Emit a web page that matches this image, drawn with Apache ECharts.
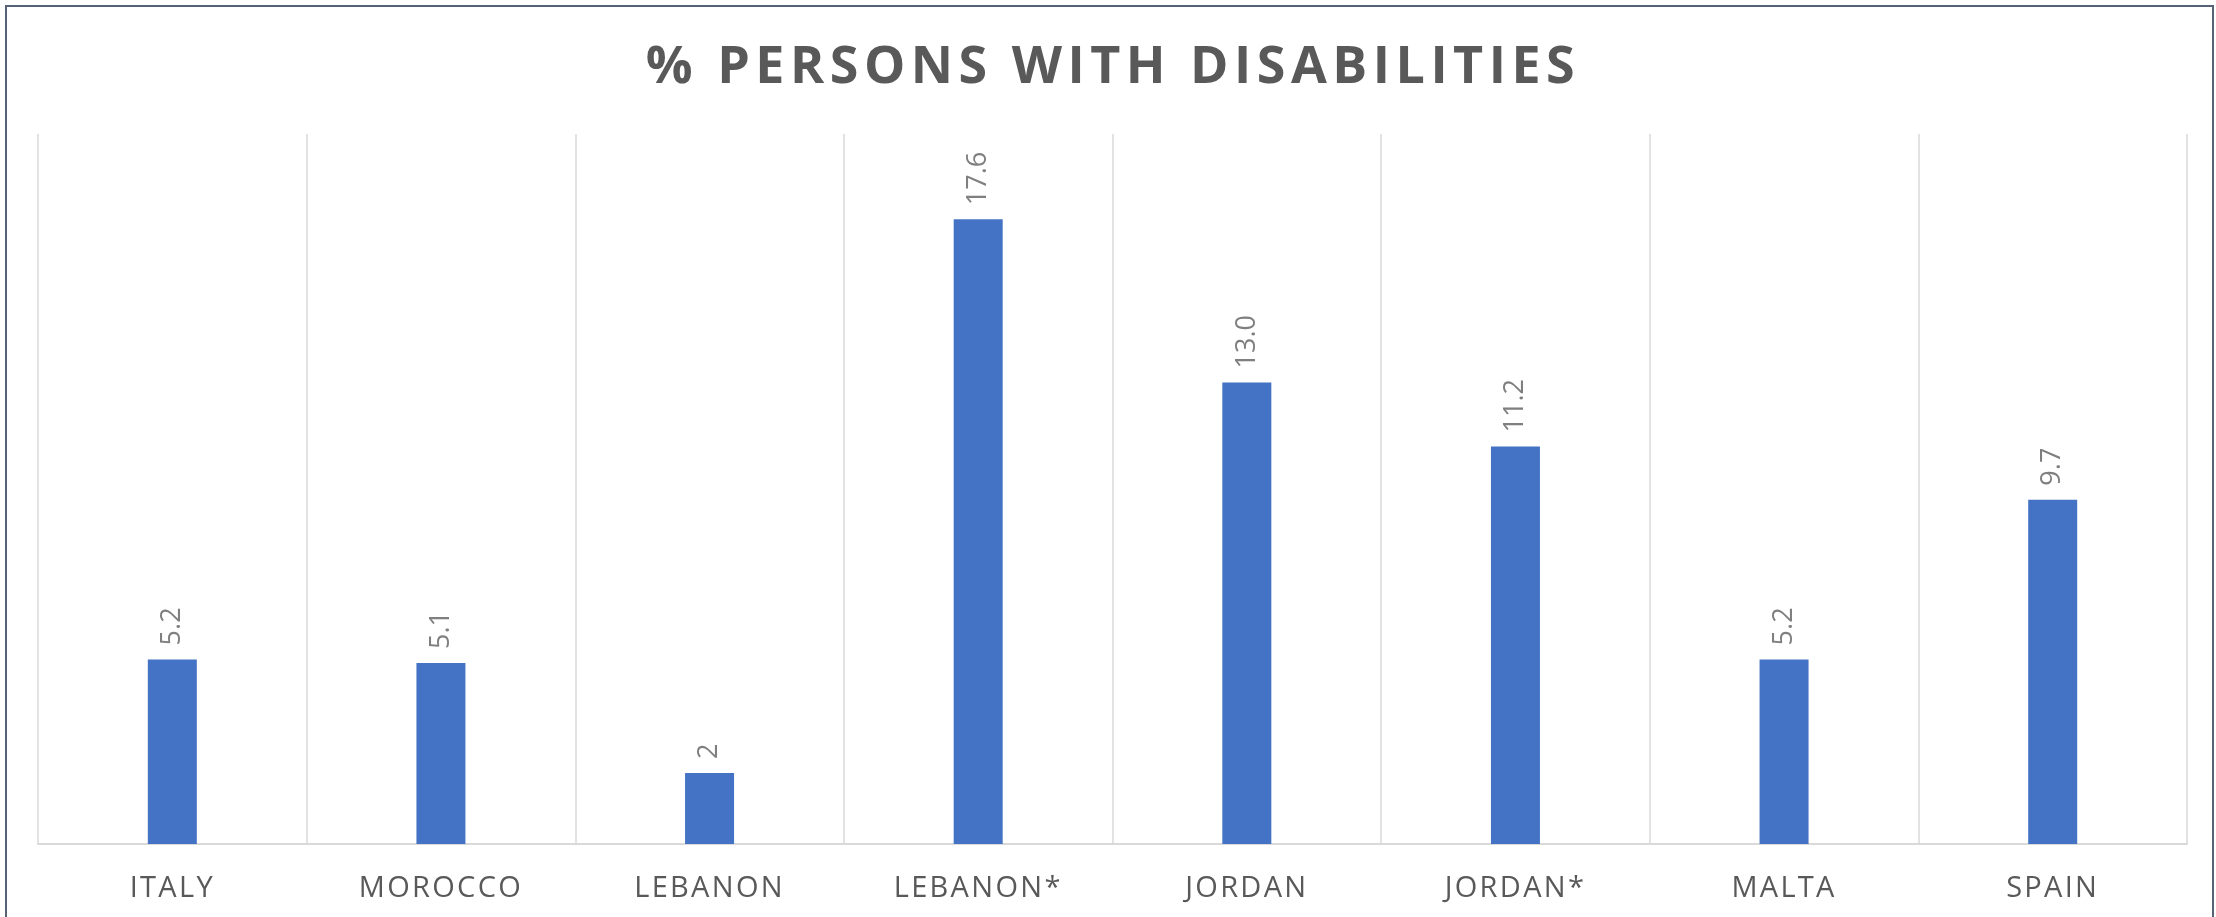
<!DOCTYPE html>
<html>
<head>
<meta charset="utf-8">
<script src="https://cdn.jsdelivr.net/npm/echarts@6/dist/echarts.min.js"></script>
<style>
html,body{margin:0;padding:0;background:#fff;}
#chart{width:2216px;height:917px;}
</style>
</head>
<body>
<div id="chart"></div>
<script>
const categories = ['ITALY', 'MOROCCO', 'LEBANON', 'LEBANON*', 'JORDAN', 'JORDAN*', 'MALTA', 'SPAIN'];
const values = [5.2, 5.1, 2, 17.6, 13.0, 11.2, 5.2, 9.7];
const valueLabels = ['5.2', '5.1', '2', '17.6', '13.0', '11.2', '5.2', '9.7'];
const titleText = '% PERSONS WITH DISABILITIES';

// letter spacing for title and category labels (as in the reference)
(function () {
  const proto = CanvasRenderingContext2D.prototype;
  if (!('letterSpacing' in proto)) return;
  const origFill = proto.fillText;
  proto.fillText = function (t, x, y, m) {
    const prev = this.letterSpacing;
    if (t === titleText) this.letterSpacing = '5.5px';
    else if (categories.indexOf(t) >= 0) this.letterSpacing = '2.3px';
    else this.letterSpacing = '0px';
    if (m === undefined) origFill.call(this, t, x, y);
    else origFill.call(this, t, x, y, m);
    this.letterSpacing = prev;
  };
})();

const chart = echarts.init(document.getElementById('chart'), null, {renderer: 'canvas'});
chart.setOption({
  backgroundColor: '#ffffff',
  animation: false,
  title: {
    text: titleText,
    left: 1108,
    textAlign: 'center',
    top: 37,
    textStyle: {
      fontFamily: 'Open Sans',
      fontWeight: 'bold',
      fontSize: 52,
      color: '#595959'
    }
  },
  graphic: [{
    type: 'rect',
    shape: {x: 6, y: 6, width: 2207, height: 940},
    style: {fill: 'none', stroke: '#566275', lineWidth: 2},
    silent: true
  }],
  grid: {left: 38, right: 29, top: 134, bottom: 73, containLabel: false},
  xAxis: {
    type: 'category',
    data: categories,
    boundaryGap: true,
    axisLine: {show: true, lineStyle: {color: '#d9d9d9', width: 2}},
    axisTick: {show: false},
    splitLine: {show: true, lineStyle: {color: '#d9d9d9', width: 1.5}},
    axisLabel: {
      color: '#595959',
      fontFamily: 'Open Sans',
      fontSize: 29,
      margin: 30
    }
  },
  yAxis: {
    type: 'value',
    min: 0,
    max: 20,
    interval: 5,
    axisLine: {show: false},
    axisTick: {show: false},
    axisLabel: {show: false},
    splitLine: {show: false}
  },
  series: [{
    type: 'bar',
    data: values,
    barWidth: 49,
    itemStyle: {color: '#4472C4'},
    label: {
      show: true,
      position: 'top',
      rotate: 90,
      align: 'left',
      verticalAlign: 'middle',
      distance: 14,
      color: '#7f7f7f',
      fontFamily: 'Open Sans',
      fontSize: 27,
      formatter: p => valueLabels[p.dataIndex]
    }
  }]
});
</script>
</body>
</html>
